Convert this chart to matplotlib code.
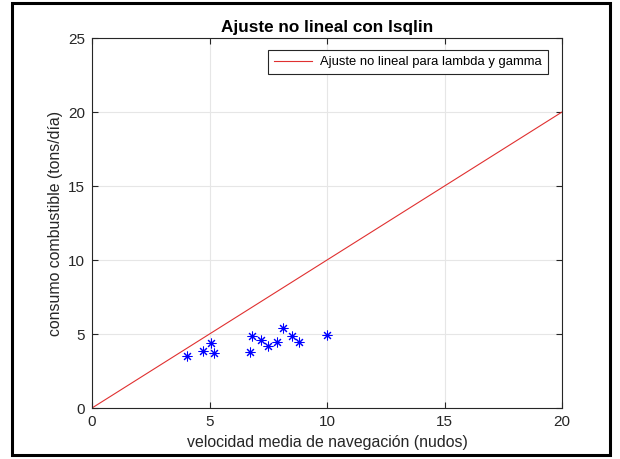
import matplotlib.pyplot as plt
from matplotlib.patches import Rectangle

plt.rcParams['font.family'] = ['Liberation Sans', 'DejaVu Sans']

velocidad = [4.03, 4.74, 5.05, 5.19, 6.72, 6.81, 7.20, 7.49, 7.87, 8.13, 8.50, 8.82, 9.99]
consumo = [3.53, 3.87, 4.41, 3.69, 3.78, 4.84, 4.57, 4.21, 4.46, 5.43, 4.89, 4.46, 4.91]

ajuste_x = [0, 20]
ajuste_y = [0, 20]

fig = plt.figure(figsize=(6.2, 4.59), dpi=100)
ax = fig.add_axes([0.1484, 0.1111, 0.7581, 0.8061])

# asterisco estilo matlab (+ y x superpuestos)
ax.plot(velocidad, consumo, marker=(8, 2, 0), color='#0000ff', markersize=7,
        markeredgewidth=0.75, linestyle='none')
ax.plot(ajuste_x, ajuste_y, color='#e03030', linewidth=0.8, label='Ajuste no lineal para lambda y gamma')

ax.set_xlim(0, 20)
ax.set_ylim(0, 25)
ax.set_xticks([0, 5, 10, 15, 20])
ax.set_yticks([0, 5, 10, 15, 20, 25])
ax.grid(True, color='#e6e6e6', linewidth=0.8)
ax.set_axisbelow(True)
ax.tick_params(direction='in', length=4, labelsize=11, colors='#262626', pad=5,
               top=True, right=True)
for s in ax.spines.values():
    s.set_color('#262626')
    s.set_linewidth(0.8)

ax.set_title('Ajuste no lineal con lsqlin', fontsize=12.3, fontweight='bold', pad=4)
ax.set_xlabel('velocidad media de navegación (nudos)', fontsize=11.4, color='#262626')
ax.set_ylabel('consumo combustible (tons/día)', fontsize=11.4, color='#262626')

leg = ax.legend(loc='upper right', fontsize=9.4, fancybox=False, framealpha=1,
                edgecolor='#262626', handlelength=2.9, handletextpad=0.6, borderpad=0.45,
                bbox_to_anchor=(0.983, 0.985))
leg.get_frame().set_linewidth(0.8)

fig.patches.append(Rectangle((0.019, 0.009), 0.965, 0.984, transform=fig.transFigure,
                             fill=False, edgecolor='black', linewidth=2.2))

fig.savefig('out.png', dpi=100)
